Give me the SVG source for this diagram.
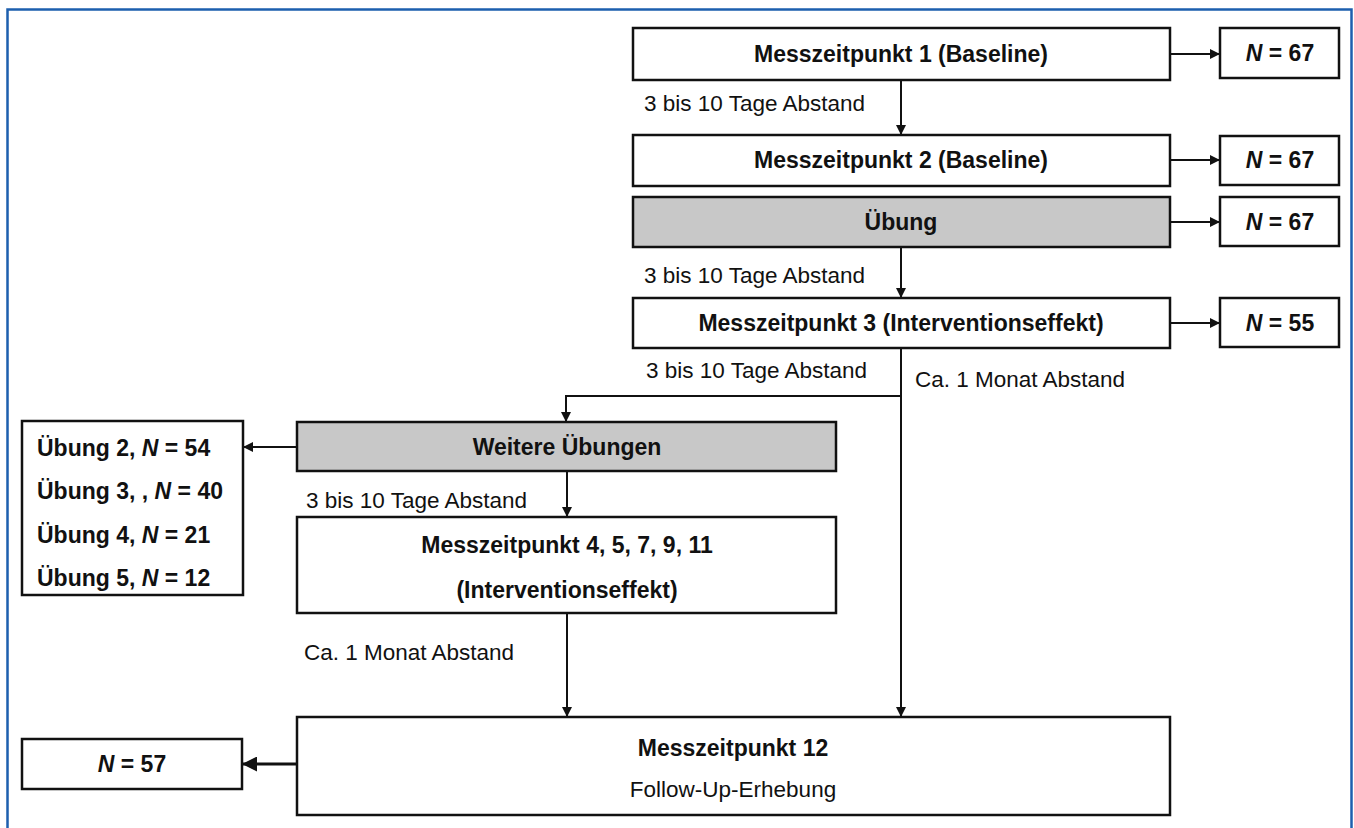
<svg xmlns="http://www.w3.org/2000/svg" width="1354" height="828" viewBox="0 0 1354 828">
<style>
.box{fill:#fff;stroke:#111;stroke-width:2.5}
.gray{fill:#c8c8c8;stroke:#111;stroke-width:2.5}
.b{font-family:"Liberation Sans",Arial,sans-serif;font-weight:bold;font-size:23px;fill:#111}
.r{font-family:"Liberation Sans",Arial,sans-serif;font-size:22.5px;fill:#111}
.c{text-anchor:middle}
.ln{fill:none;stroke:#111;stroke-width:2}
</style>
<defs>
<marker id="ah" viewBox="0 0 10 10" refX="10" refY="5" markerWidth="5" markerHeight="5" orient="auto" markerUnits="strokeWidth">
<path d="M0,0 L10,5 L0,10 z" fill="#111"/>
</marker>
</defs>
<rect x="7.5" y="9.5" width="1344" height="840" fill="#fff" stroke="#1d5fae" stroke-width="2.5"/>

<g id="connectors">
<line class="ln" x1="1170" y1="54" x2="1220" y2="54" marker-end="url(#ah)"/>
<line class="ln" x1="1170" y1="160" x2="1220" y2="160" marker-end="url(#ah)"/>
<line class="ln" x1="1170" y1="222" x2="1220" y2="222" marker-end="url(#ah)"/>
<line class="ln" x1="1170" y1="323" x2="1220" y2="323" marker-end="url(#ah)"/>
<line class="ln" x1="901" y1="80" x2="901" y2="135" marker-end="url(#ah)"/>
<line class="ln" x1="901" y1="247" x2="901" y2="298" marker-end="url(#ah)"/>
<line class="ln" x1="901" y1="348" x2="901" y2="717" marker-end="url(#ah)"/>
<polyline class="ln" points="901,396 566,396 566,422" marker-end="url(#ah)"/>
<line class="ln" x1="297" y1="447" x2="243" y2="447" marker-end="url(#ah)"/>
<line class="ln" x1="567" y1="471" x2="567" y2="517" marker-end="url(#ah)"/>
<line class="ln" x1="567" y1="613" x2="567" y2="717" marker-end="url(#ah)"/>
<line class="ln" style="stroke-width:3" x1="297" y1="764" x2="242" y2="764" marker-end="url(#ah)"/>
<text class="r" x="644" y="111">3 bis 10 Tage Abstand</text>
<text class="r" x="644" y="283">3 bis 10 Tage Abstand</text>
<text class="r" x="646" y="378">3 bis 10 Tage Abstand</text>
<text class="r" x="915" y="387">Ca. 1 Monat Abstand</text>
<text class="r" x="306" y="508">3 bis 10 Tage Abstand</text>
<text class="r" x="304" y="660">Ca. 1 Monat Abstand</text>
</g>

<g id="mzp1"><rect class="box" x="633" y="28" width="537" height="52"/><text class="b c" x="901" y="62">Messzeitpunkt 1 (Baseline)</text></g>
<g id="n1"><rect class="box" x="1220" y="28" width="119" height="50"/><text class="b c" x="1280" y="61"><tspan font-style="italic">N</tspan> = 67</text></g>
<g id="mzp2"><rect class="box" x="633" y="135" width="537" height="51"/><text class="b c" x="901" y="168">Messzeitpunkt 2 (Baseline)</text></g>
<g id="n2"><rect class="box" x="1220" y="136" width="119" height="49"/><text class="b c" x="1280" y="168"><tspan font-style="italic">N</tspan> = 67</text></g>
<g id="uebung"><rect class="gray" x="633" y="197" width="537" height="50"/><text class="b c" x="901" y="230">Übung</text></g>
<g id="n3"><rect class="box" x="1220" y="197" width="119" height="49"/><text class="b c" x="1280" y="230"><tspan font-style="italic">N</tspan> = 67</text></g>
<g id="mzp3"><rect class="box" x="633" y="298" width="537" height="50"/><text class="b c" x="901" y="331">Messzeitpunkt 3 (Interventionseffekt)</text></g>
<g id="n4"><rect class="box" x="1220" y="298" width="119" height="49"/><text class="b c" x="1280" y="331"><tspan font-style="italic">N</tspan> = 55</text></g>
<g id="weitere"><rect class="gray" x="297" y="422" width="539" height="49"/><text class="b c" x="567" y="455">Weitere Übungen</text></g>
<g id="liste"><rect class="box" x="22" y="421" width="221" height="174"/>
<text class="b" x="37" y="456">Übung 2, <tspan font-style="italic">N</tspan> = 54</text>
<text class="b" x="37" y="499">Übung 3, , <tspan font-style="italic">N</tspan> = 40</text>
<text class="b" x="37" y="543">Übung 4, <tspan font-style="italic">N</tspan> = 21</text>
<text class="b" x="37" y="586">Übung 5, <tspan font-style="italic">N</tspan> = 12</text>
</g>
<g id="mzp4"><rect class="box" x="297" y="517" width="539" height="96"/><text class="b c" x="567" y="553">Messzeitpunkt 4, 5, 7, 9, 11</text><text class="b c" x="567" y="598">(Interventionseffekt)</text></g>
<g id="mzp12"><rect class="box" x="297" y="717" width="873" height="98"/><text class="b c" x="733" y="756">Messzeitpunkt 12</text><text class="r c" x="733" y="797">Follow-Up-Erhebung</text></g>
<g id="n5"><rect class="box" x="22" y="739" width="220" height="50"/><text class="b c" x="132" y="772"><tspan font-style="italic">N</tspan> = 57</text></g>
</svg>
